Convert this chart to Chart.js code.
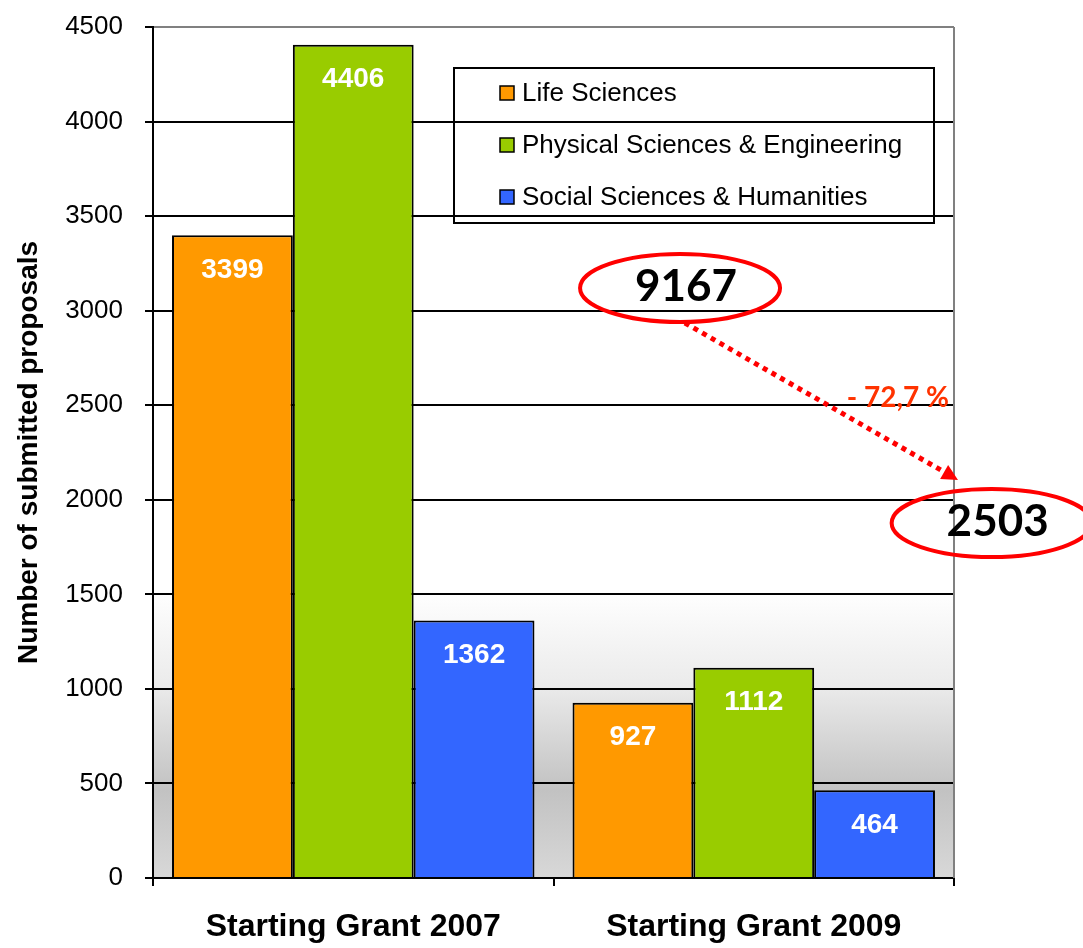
<!DOCTYPE html>
<html>
<head>
<meta charset="utf-8">
<script src="https://cdn.jsdelivr.net/npm/chart.js@4.4.1/dist/chart.umd.min.js"></script>
<style>
  body { margin: 0; background: #fff; }
  #wrap { width: 1083px; height: 948px; }
</style>
</head>
<body>
<div id="wrap"><canvas id="myChart" width="1083" height="948"></canvas></div>
<script>
const categories = ["Starting Grant 2007", "Starting Grant 2009"];
const lifeSciences = [3399, 927];
const physicalSciences = [4406, 1112];
const socialSciences = [1362, 464];
const seriesNames = ["Life Sciences", "Physical Sciences & Engineering", "Social Sciences & Humanities"];
const seriesColors = ["#ff9900", "#99cc00", "#3366ff"];
const yTicks = [0, 500, 1000, 1500, 2000, 2500, 3000, 3500, 4000, 4500];

const FONT = "'Liberation Sans', Arial, sans-serif";
const CAL = "Lato, 'Open Sans', sans-serif";

// totals per call, used for the ellipses
const totals = categories.map((c, i) => lifeSciences[i] + physicalSciences[i] + socialSciences[i]);
const change = (totals[1] - totals[0]) / totals[0] * 100;

// gray fade at the bottom of the plot
const bgPlugin = {
  id: "bg",
  beforeDraw(chart) {
    const { ctx, chartArea: a } = chart;
    const g = ctx.createLinearGradient(0, a.top, 0, a.bottom);
    const at = (y) => (y - a.top) / (a.bottom - a.top);
    g.addColorStop(0, "#ffffff");
    g.addColorStop(at(590), "#ffffff");
    g.addColorStop(at(685), "#ebebeb");
    g.addColorStop(at(790), "#c2c2c2");
    g.addColorStop(1, "#d8d8d8");
    ctx.save();
    ctx.fillStyle = g;
    ctx.fillRect(a.left, a.top, a.right - a.left, a.bottom - a.top);
    ctx.restore();
  },
};

const decoPlugin = {
  id: "deco",
  afterDatasetsDraw(chart) {
    const { ctx, chartArea: a } = chart;
    ctx.save();
    // right border
    ctx.strokeStyle = "#808080";
    ctx.lineWidth = 2;
    ctx.beginPath();
    ctx.moveTo(a.right, a.top);
    ctx.lineTo(a.right, a.bottom);
    ctx.stroke();

    // values inside bars
    ctx.fillStyle = "#fff";
    ctx.font = "bold 28px " + FONT;
    ctx.textAlign = "center";
    ctx.textBaseline = "middle";
    chart.data.datasets.forEach((ds, di) => {
      chart.getDatasetMeta(di).data.forEach((bar, i) => {
        ctx.fillText(String(ds.data[i]), bar.x, bar.y + 35);
      });
    });

    // legend box
    const lx = 454, ly = 68, lw = 480, lh = 155;
    ctx.strokeStyle = "#000";
    ctx.lineWidth = 2;
    ctx.strokeRect(lx, ly, lw, lh);
    ctx.textAlign = "left";
    ctx.font = "26px " + FONT;
    chart.data.datasets.forEach((ds, di) => {
      const cy = 93 + di * 52;
      ctx.fillStyle = ds.backgroundColor;
      ctx.fillRect(500, cy - 7, 14, 14);
      ctx.lineWidth = 1.5;
      ctx.strokeRect(500, cy - 7, 14, 14);
      ctx.fillStyle = "#000";
      ctx.fillText(ds.label, 522, cy + 1);
    });
    ctx.restore();
  },
  afterDraw(chart) {
    const { ctx } = chart;
    const xs = chart.scales.x, ys = chart.scales.y;
    const px = (f) => xs.left + f * (xs.right - xs.left);
    ctx.save();
    ctx.strokeStyle = "#ff0000";
    ctx.lineWidth = 4;
    ctx.textAlign = "center";
    ctx.textBaseline = "middle";

    // ellipses with totals
    const boxes = [
      { x: px(0.658), y: ys.getPixelForValue(3120), text: totals[0] },
      { x: px(1.047), y: ys.getPixelForValue(1877), text: totals[1] },
    ];
    boxes.forEach((b) => {
      ctx.beginPath();
      ctx.ellipse(b.x, b.y, 100, 34, 0, 0, Math.PI * 2);
      ctx.stroke();
      ctx.fillStyle = "#000";
      ctx.font = "bold 44px " + CAL;
      ctx.fillText(String(b.text), b.x + 6, b.y - 1);
    });

    // dotted arrow
    const x1 = px(0.664), y1 = ys.getPixelForValue(2935);
    const x2 = px(1.005), y2 = ys.getPixelForValue(2105);
    const ang = Math.atan2(y2 - y1, x2 - x1);
    const hx = x2 - 16 * Math.cos(ang), hy = y2 - 16 * Math.sin(ang);
    ctx.setLineDash([5, 5]);
    ctx.lineWidth = 5;
    ctx.beginPath();
    ctx.moveTo(x1, y1);
    ctx.lineTo(hx, hy);
    ctx.stroke();
    ctx.setLineDash([]);
    ctx.fillStyle = "#ff0000";
    ctx.beginPath();
    ctx.moveTo(x2, y2);
    ctx.lineTo(hx + 8 * Math.sin(ang), hy - 8 * Math.cos(ang));
    ctx.lineTo(hx - 8 * Math.sin(ang), hy + 8 * Math.cos(ang));
    ctx.closePath();
    ctx.fill();

    // change label
    ctx.fillStyle = "#ff3300";
    ctx.font = "bold 28px " + CAL;
    const pct = "- " + Math.abs(change).toFixed(1).replace(".", ",") + " %";
    ctx.fillText(pct, px(0.930), ys.getPixelForValue(2538));
    ctx.restore();
  },
};

const series = [lifeSciences, physicalSciences, socialSciences];

new Chart(document.getElementById("myChart"), {
  type: "bar",
  data: {
    labels: categories,
    datasets: series.map((d, i) => ({
      label: seriesNames[i],
      data: d,
      backgroundColor: seriesColors[i],
      borderColor: "#000",
      borderWidth: 2,
      borderSkipped: "bottom",
      barPercentage: 1,
      categoryPercentage: 0.905,
    })),
  },
  options: {
    responsive: false,
    animation: false,
    layout: { padding: { top: 27, right: 129, left: 0, bottom: 0 } },
    plugins: { legend: { display: false }, tooltip: { enabled: false } },
    scales: {
      x: {
        grid: { drawOnChartArea: false, tickLength: 8, color: "#000", lineWidth: 2 },
        border: { color: "#000", width: 2 },
        ticks: { color: "#000", padding: 22, font: { family: FONT, size: 32, weight: "bold" } },
        afterFit(s) { s.height = 70; },
      },
      y: {
        min: 0,
        max: 4500,
        afterBuildTicks(s) { s.ticks = yTicks.map((v) => ({ value: v })); },
        grid: {
          color: (c) => (c.tick && c.tick.value === 4500 ? "#808080" : "#000"),
          tickColor: "#000",
          lineWidth: 2,
          tickLength: 8,
        },
        border: { color: "#000", width: 2 },
        ticks: {
          color: "#000",
          padding: 22,
          font: { family: FONT, size: 26 },
          callback: (v) => String(v),
        },
        title: {
          display: true,
          text: "Number of submitted proposals",
          color: "#000",
          font: { family: FONT, size: 28, weight: "bold" },
          padding: { top: 12, bottom: 0 },
        },
        afterFit(s) {
          s.width = 153;
          s.paddingTop = 0;
          s.paddingBottom = 0;
        },
      },
    },
  },
  plugins: [bgPlugin, decoPlugin],
});
</script>
</body>
</html>
